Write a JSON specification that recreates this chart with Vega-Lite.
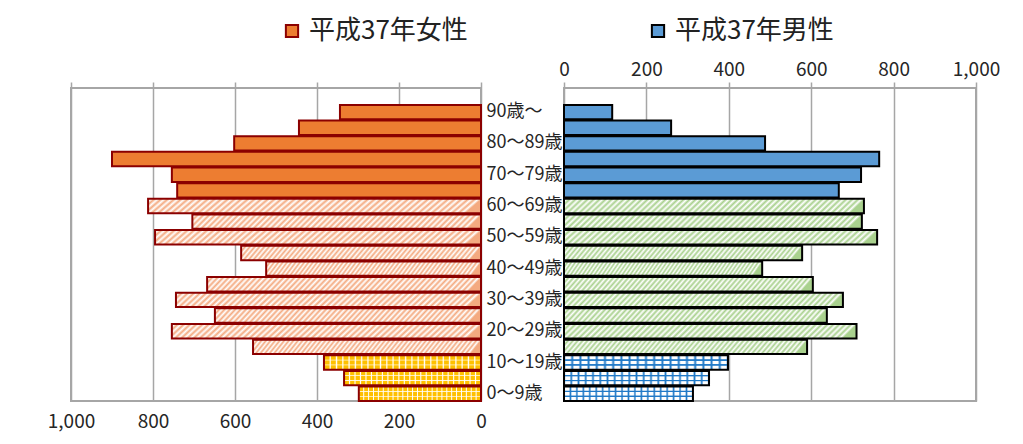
{
  "$schema": "https://vega.github.io/schema/vega-lite/v6.json",
  "padding": {"left": 46, "top": 18, "right": 0, "bottom": 0},
  "autosize": {"type": "pad"},
  "bounds": "flush",
  "spacing": 83,
  "datasets": {
    "pop": [
      {"age": "90歳～", "series": "平成37年女性", "group": "老年人口", "pop": 344},
      {"age": "85～89歳", "series": "平成37年女性", "group": "老年人口", "pop": 444},
      {"age": "80～84歳", "series": "平成37年女性", "group": "老年人口", "pop": 602},
      {"age": "75～79歳", "series": "平成37年女性", "group": "老年人口", "pop": 900},
      {"age": "70～74歳", "series": "平成37年女性", "group": "老年人口", "pop": 754},
      {"age": "65～69歳", "series": "平成37年女性", "group": "老年人口", "pop": 741},
      {"age": "60～64歳", "series": "平成37年女性", "group": "生産年齢人口", "pop": 812},
      {"age": "55～59歳", "series": "平成37年女性", "group": "生産年齢人口", "pop": 704},
      {"age": "50～54歳", "series": "平成37年女性", "group": "生産年齢人口", "pop": 795},
      {"age": "45～49歳", "series": "平成37年女性", "group": "生産年齢人口", "pop": 585},
      {"age": "40～44歳", "series": "平成37年女性", "group": "生産年齢人口", "pop": 524},
      {"age": "35～39歳", "series": "平成37年女性", "group": "生産年齢人口", "pop": 668},
      {"age": "30～34歳", "series": "平成37年女性", "group": "生産年齢人口", "pop": 744},
      {"age": "25～29歳", "series": "平成37年女性", "group": "生産年齢人口", "pop": 649},
      {"age": "20～24歳", "series": "平成37年女性", "group": "生産年齢人口", "pop": 754},
      {"age": "15～19歳", "series": "平成37年女性", "group": "生産年齢人口", "pop": 556},
      {"age": "10～14歳", "series": "平成37年女性", "group": "年少人口", "pop": 383},
      {"age": "5～9歳", "series": "平成37年女性", "group": "年少人口", "pop": 334},
      {"age": "0～4歳", "series": "平成37年女性", "group": "年少人口", "pop": 298},
      {"age": "90歳～", "series": "平成37年男性", "group": "老年人口", "pop": 117},
      {"age": "85～89歳", "series": "平成37年男性", "group": "老年人口", "pop": 260},
      {"age": "80～84歳", "series": "平成37年男性", "group": "老年人口", "pop": 488},
      {"age": "75～79歳", "series": "平成37年男性", "group": "老年人口", "pop": 765},
      {"age": "70～74歳", "series": "平成37年男性", "group": "老年人口", "pop": 721},
      {"age": "65～69歳", "series": "平成37年男性", "group": "老年人口", "pop": 667},
      {"age": "60～64歳", "series": "平成37年男性", "group": "生産年齢人口", "pop": 728},
      {"age": "55～59歳", "series": "平成37年男性", "group": "生産年齢人口", "pop": 723},
      {"age": "50～54歳", "series": "平成37年男性", "group": "生産年齢人口", "pop": 760},
      {"age": "45～49歳", "series": "平成37年男性", "group": "生産年齢人口", "pop": 578},
      {"age": "40～44歳", "series": "平成37年男性", "group": "生産年齢人口", "pop": 481},
      {"age": "35～39歳", "series": "平成37年男性", "group": "生産年齢人口", "pop": 604},
      {"age": "30～34歳", "series": "平成37年男性", "group": "生産年齢人口", "pop": 677},
      {"age": "25～29歳", "series": "平成37年男性", "group": "生産年齢人口", "pop": 638},
      {"age": "20～24歳", "series": "平成37年男性", "group": "生産年齢人口", "pop": 710},
      {"age": "15～19歳", "series": "平成37年男性", "group": "生産年齢人口", "pop": 590},
      {"age": "10～14歳", "series": "平成37年男性", "group": "年少人口", "pop": 398},
      {"age": "5～9歳", "series": "平成37年男性", "group": "年少人口", "pop": 352},
      {"age": "0～4歳", "series": "平成37年男性", "group": "年少人口", "pop": 313}
    ]
  },
  "data": {"name": "pop"},
  "hconcat": [
    {
      "width": 410,
      "height": 313,
      "encoding": {
        "y": {
          "field": "age", "type": "nominal", "title": null,
          "sort": ["90歳～","85～89歳","80～84歳","75～79歳","70～74歳","65～69歳","60～64歳","55～59歳","50～54歳","45～49歳","40～44歳","35～39歳","30～34歳","25～29歳","20～24歳","15～19歳","10～14歳","5～9歳","0～4歳"],
          "scale": {"paddingInner": 0.08, "paddingOuter": 0.54, "align": 1},
          "axis": {
            "orient": "right", "labelAlign": "left", "labelPadding": 5, "ticks": false, "domain": false, "grid": false,
            "labelFontSize": 18, "labelOverlap": false, "labelBound": false, "title": null,
            "labelExpr": "['90歳～','80～89歳','70～79歳','60～69歳','50～59歳','40～49歳','30～39歳','20～29歳','10～19歳','0～9歳'][indexof(['90歳～','80～84歳','70～74歳','60～64歳','50～54歳','40～44歳','30～34歳','20～24歳','10～14歳','0～4歳'], datum.value)] || ''"
          }
        }
      },
      "layer": [
        {
          "transform": [{"filter": {"and": [{"field": "series", "equal": "平成37年女性"}, {"field": "group", "equal": "老年人口"}]}}],
          "mark": {"type": "bar", "strokeWidth": 2},
          "encoding": {
            "x": {
              "field": "pop", "type": "quantitative", "title": null,
              "scale": {"domain": [0, 1000], "reverse": true, "nice": false},
              "axis": {"orient": "bottom", "values": [0, 200, 400, 600, 800, 1000], "format": ",.0f", "labelFlush": false, "grid": true, "ticks": false, "labelPadding": 11, "labelFontSize": 19, "title": null}
            },
            "fill": {
              "field": "series", "type": "nominal",
              "scale": {"domain": ["平成37年女性", "平成37年男性"], "range": ["#ED7D31", "#5B9BD5"]},
              "legend": {"title": null, "orient": "none", "legendX": 208, "legendY": -70, "direction": "horizontal", "symbolType": "square", "symbolSize": 150, "symbolStrokeWidth": 2, "labelFontSize": 26, "labelColor": "#222222", "labelOffset": 4, "columnPadding": 177, "labelLimit": 400}
            },
            "stroke": {
              "field": "series", "type": "nominal",
              "scale": {"domain": ["平成37年女性", "平成37年男性"], "range": ["#8B0000", "#000000"]},
              "legend": {"title": null, "orient": "none", "legendX": 208, "legendY": -70, "direction": "horizontal", "symbolType": "square", "symbolSize": 150, "symbolStrokeWidth": 2, "labelFontSize": 26, "labelColor": "#222222", "labelOffset": 4, "columnPadding": 177, "labelLimit": 400}
            }
          }
        },
        {
          "transform": [{"filter": {"and": [{"field": "series", "equal": "平成37年女性"}, {"field": "group", "equal": "生産年齢人口"}]}}],
          "mark": {
            "type": "bar", "stroke": "#8B0000", "strokeWidth": 2,
            "fill": {"gradient": "linear", "x1": 0, "y1": 0, "x2": 1, "y2": 0.05, "stops": [
              {"offset":0,"color":"#F4AA80"},{"offset":0.01,"color":"#fff"},{"offset":0.02,"color":"#F4AA80"},{"offset":0.03,"color":"#fff"},{"offset":0.04,"color":"#F4AA80"},{"offset":0.05,"color":"#fff"},{"offset":0.06,"color":"#F4AA80"},{"offset":0.07,"color":"#fff"},{"offset":0.08,"color":"#F4AA80"},{"offset":0.09,"color":"#fff"},
              {"offset":0.1,"color":"#F4AA80"},{"offset":0.11,"color":"#fff"},{"offset":0.12,"color":"#F4AA80"},{"offset":0.13,"color":"#fff"},{"offset":0.14,"color":"#F4AA80"},{"offset":0.15,"color":"#fff"},{"offset":0.16,"color":"#F4AA80"},{"offset":0.17,"color":"#fff"},{"offset":0.18,"color":"#F4AA80"},{"offset":0.19,"color":"#fff"},
              {"offset":0.2,"color":"#F4AA80"},{"offset":0.21,"color":"#fff"},{"offset":0.22,"color":"#F4AA80"},{"offset":0.23,"color":"#fff"},{"offset":0.24,"color":"#F4AA80"},{"offset":0.25,"color":"#fff"},{"offset":0.26,"color":"#F4AA80"},{"offset":0.27,"color":"#fff"},{"offset":0.28,"color":"#F4AA80"},{"offset":0.29,"color":"#fff"},
              {"offset":0.3,"color":"#F4AA80"},{"offset":0.31,"color":"#fff"},{"offset":0.32,"color":"#F4AA80"},{"offset":0.33,"color":"#fff"},{"offset":0.34,"color":"#F4AA80"},{"offset":0.35,"color":"#fff"},{"offset":0.36,"color":"#F4AA80"},{"offset":0.37,"color":"#fff"},{"offset":0.38,"color":"#F4AA80"},{"offset":0.39,"color":"#fff"},
              {"offset":0.4,"color":"#F4AA80"},{"offset":0.41,"color":"#fff"},{"offset":0.42,"color":"#F4AA80"},{"offset":0.43,"color":"#fff"},{"offset":0.44,"color":"#F4AA80"},{"offset":0.45,"color":"#fff"},{"offset":0.46,"color":"#F4AA80"},{"offset":0.47,"color":"#fff"},{"offset":0.48,"color":"#F4AA80"},{"offset":0.49,"color":"#fff"},
              {"offset":0.5,"color":"#F4AA80"},{"offset":0.51,"color":"#fff"},{"offset":0.52,"color":"#F4AA80"},{"offset":0.53,"color":"#fff"},{"offset":0.54,"color":"#F4AA80"},{"offset":0.55,"color":"#fff"},{"offset":0.56,"color":"#F4AA80"},{"offset":0.57,"color":"#fff"},{"offset":0.58,"color":"#F4AA80"},{"offset":0.59,"color":"#fff"},
              {"offset":0.6,"color":"#F4AA80"},{"offset":0.61,"color":"#fff"},{"offset":0.62,"color":"#F4AA80"},{"offset":0.63,"color":"#fff"},{"offset":0.64,"color":"#F4AA80"},{"offset":0.65,"color":"#fff"},{"offset":0.66,"color":"#F4AA80"},{"offset":0.67,"color":"#fff"},{"offset":0.68,"color":"#F4AA80"},{"offset":0.69,"color":"#fff"},
              {"offset":0.7,"color":"#F4AA80"},{"offset":0.71,"color":"#fff"},{"offset":0.72,"color":"#F4AA80"},{"offset":0.73,"color":"#fff"},{"offset":0.74,"color":"#F4AA80"},{"offset":0.75,"color":"#fff"},{"offset":0.76,"color":"#F4AA80"},{"offset":0.77,"color":"#fff"},{"offset":0.78,"color":"#F4AA80"},{"offset":0.79,"color":"#fff"},
              {"offset":0.8,"color":"#F4AA80"},{"offset":0.81,"color":"#fff"},{"offset":0.82,"color":"#F4AA80"},{"offset":0.83,"color":"#fff"},{"offset":0.84,"color":"#F4AA80"},{"offset":0.85,"color":"#fff"},{"offset":0.86,"color":"#F4AA80"},{"offset":0.87,"color":"#fff"},{"offset":0.88,"color":"#F4AA80"},{"offset":0.89,"color":"#fff"},
              {"offset":0.9,"color":"#F4AA80"},{"offset":0.91,"color":"#fff"},{"offset":0.92,"color":"#F4AA80"},{"offset":0.93,"color":"#fff"},{"offset":0.94,"color":"#F4AA80"},{"offset":0.95,"color":"#fff"},{"offset":0.96,"color":"#F4AA80"},{"offset":0.97,"color":"#fff"},{"offset":0.98,"color":"#F4AA80"},{"offset":0.99,"color":"#fff"},
              {"offset":1,"color":"#F4AA80"}
            ]}
          },
          "encoding": {
            "x": {
              "field": "pop", "type": "quantitative", "title": null,
              "scale": {"domain": [0, 1000], "reverse": true, "nice": false},
              "axis": {"orient": "top", "values": [0, 200, 400, 600, 800, 1000], "labels": false, "ticks": true, "tickSize": 6, "grid": false, "title": null}
            }
          }
        },
        {
          "transform": [{"filter": {"and": [{"field": "series", "equal": "平成37年女性"}, {"field": "group", "equal": "年少人口"}]}}],
          "mark": {
            "type": "bar",
            "fill": {"gradient": "linear", "x1": 0, "y1": 0, "x2": 0, "y2": 1, "stops": [
              {"offset":0,"color":"#FFC000"},{"offset":0.28,"color":"#FFC000"},{"offset":0.33,"color":"#fff"},{"offset":0.38,"color":"#FFC000"},
              {"offset":0.62,"color":"#FFC000"},{"offset":0.67,"color":"#fff"},{"offset":0.72,"color":"#FFC000"},{"offset":1,"color":"#FFC000"}
            ]}
          },
          "encoding": {
            "x": {"field": "pop", "type": "quantitative", "title": null, "scale": {"domain": [0, 1000], "reverse": true, "nice": false}, "axis": null}
          }
        },
        {
          "transform": [{"filter": {"and": [{"field": "series", "equal": "平成37年女性"}, {"field": "group", "equal": "年少人口"}]}}],
          "mark": {
            "type": "bar", "stroke": "#8B0000", "strokeWidth": 2,
            "fill": {"gradient": "linear", "x1": 0, "y1": 0, "x2": 1, "y2": 0, "stops": [
              {"offset":0,"color":"#fff"},{"offset":0.008,"color":"rgba(255,255,255,0)"},{"offset":0.032,"color":"rgba(255,255,255,0)"},
              {"offset":0.04,"color":"#fff"},{"offset":0.048,"color":"rgba(255,255,255,0)"},{"offset":0.072,"color":"rgba(255,255,255,0)"},
              {"offset":0.08,"color":"#fff"},{"offset":0.088,"color":"rgba(255,255,255,0)"},{"offset":0.112,"color":"rgba(255,255,255,0)"},
              {"offset":0.12,"color":"#fff"},{"offset":0.128,"color":"rgba(255,255,255,0)"},{"offset":0.152,"color":"rgba(255,255,255,0)"},
              {"offset":0.16,"color":"#fff"},{"offset":0.168,"color":"rgba(255,255,255,0)"},{"offset":0.192,"color":"rgba(255,255,255,0)"},
              {"offset":0.2,"color":"#fff"},{"offset":0.208,"color":"rgba(255,255,255,0)"},{"offset":0.232,"color":"rgba(255,255,255,0)"},
              {"offset":0.24,"color":"#fff"},{"offset":0.248,"color":"rgba(255,255,255,0)"},{"offset":0.272,"color":"rgba(255,255,255,0)"},
              {"offset":0.28,"color":"#fff"},{"offset":0.288,"color":"rgba(255,255,255,0)"},{"offset":0.312,"color":"rgba(255,255,255,0)"},
              {"offset":0.32,"color":"#fff"},{"offset":0.328,"color":"rgba(255,255,255,0)"},{"offset":0.352,"color":"rgba(255,255,255,0)"},
              {"offset":0.36,"color":"#fff"},{"offset":0.368,"color":"rgba(255,255,255,0)"},{"offset":0.392,"color":"rgba(255,255,255,0)"},
              {"offset":0.4,"color":"#fff"},{"offset":0.408,"color":"rgba(255,255,255,0)"},{"offset":0.432,"color":"rgba(255,255,255,0)"},
              {"offset":0.44,"color":"#fff"},{"offset":0.448,"color":"rgba(255,255,255,0)"},{"offset":0.472,"color":"rgba(255,255,255,0)"},
              {"offset":0.48,"color":"#fff"},{"offset":0.488,"color":"rgba(255,255,255,0)"},{"offset":0.512,"color":"rgba(255,255,255,0)"},
              {"offset":0.52,"color":"#fff"},{"offset":0.528,"color":"rgba(255,255,255,0)"},{"offset":0.552,"color":"rgba(255,255,255,0)"},
              {"offset":0.56,"color":"#fff"},{"offset":0.568,"color":"rgba(255,255,255,0)"},{"offset":0.592,"color":"rgba(255,255,255,0)"},
              {"offset":0.6,"color":"#fff"},{"offset":0.608,"color":"rgba(255,255,255,0)"},{"offset":0.632,"color":"rgba(255,255,255,0)"},
              {"offset":0.64,"color":"#fff"},{"offset":0.648,"color":"rgba(255,255,255,0)"},{"offset":0.672,"color":"rgba(255,255,255,0)"},
              {"offset":0.68,"color":"#fff"},{"offset":0.688,"color":"rgba(255,255,255,0)"},{"offset":0.712,"color":"rgba(255,255,255,0)"},
              {"offset":0.72,"color":"#fff"},{"offset":0.728,"color":"rgba(255,255,255,0)"},{"offset":0.752,"color":"rgba(255,255,255,0)"},
              {"offset":0.76,"color":"#fff"},{"offset":0.768,"color":"rgba(255,255,255,0)"},{"offset":0.792,"color":"rgba(255,255,255,0)"},
              {"offset":0.8,"color":"#fff"},{"offset":0.808,"color":"rgba(255,255,255,0)"},{"offset":0.832,"color":"rgba(255,255,255,0)"},
              {"offset":0.84,"color":"#fff"},{"offset":0.848,"color":"rgba(255,255,255,0)"},{"offset":0.872,"color":"rgba(255,255,255,0)"},
              {"offset":0.88,"color":"#fff"},{"offset":0.888,"color":"rgba(255,255,255,0)"},{"offset":0.912,"color":"rgba(255,255,255,0)"},
              {"offset":0.92,"color":"#fff"},{"offset":0.928,"color":"rgba(255,255,255,0)"},{"offset":0.952,"color":"rgba(255,255,255,0)"},
              {"offset":0.96,"color":"#fff"},{"offset":0.968,"color":"rgba(255,255,255,0)"},{"offset":0.992,"color":"rgba(255,255,255,0)"},
              {"offset":1,"color":"#fff"}
            ]}
          },
          "encoding": {
            "x": {"field": "pop", "type": "quantitative", "title": null, "scale": {"domain": [0, 1000], "reverse": true, "nice": false}, "axis": null}
          }
        }
      ],
      "resolve": {"axis": {"x": "independent"}}
    },
    {
      "width": 412,
      "height": 313,
      "encoding": {
        "y": {
          "field": "age", "type": "nominal", "title": null,
          "sort": ["90歳～","85～89歳","80～84歳","75～79歳","70～74歳","65～69歳","60～64歳","55～59歳","50～54歳","45～49歳","40～44歳","35～39歳","30～34歳","25～29歳","20～24歳","15～19歳","10～14歳","5～9歳","0～4歳"],
          "scale": {"paddingInner": 0.08, "paddingOuter": 0.54, "align": 1},
          "axis": null
        },
        "x": {
          "field": "pop", "type": "quantitative", "title": null,
          "scale": {"domain": [0, 1000], "nice": false},
          "axis": {"orient": "top", "values": [0, 200, 400, 600, 800, 1000], "format": ",.0f", "labelFlush": false, "grid": true, "ticks": true, "tickSize": 6, "labelPadding": 3, "labelFontSize": 19, "title": null}
        }
      },
      "layer": [
        {
          "transform": [{"filter": {"and": [{"field": "series", "equal": "平成37年男性"}, {"field": "group", "equal": "老年人口"}]}}],
          "mark": {"type": "bar", "strokeWidth": 2},
          "encoding": {
            "fill": {
              "field": "series", "type": "nominal",
              "scale": {"domain": ["平成37年女性", "平成37年男性"], "range": ["#ED7D31", "#5B9BD5"]},
              "legend": {"title": null, "orient": "none", "legendX": 208, "legendY": -70, "direction": "horizontal", "symbolType": "square", "symbolSize": 150, "symbolStrokeWidth": 2, "labelFontSize": 26, "labelColor": "#222222", "labelOffset": 4, "columnPadding": 177, "labelLimit": 400}
            },
            "stroke": {
              "field": "series", "type": "nominal",
              "scale": {"domain": ["平成37年女性", "平成37年男性"], "range": ["#8B0000", "#000000"]},
              "legend": {"title": null, "orient": "none", "legendX": 208, "legendY": -70, "direction": "horizontal", "symbolType": "square", "symbolSize": 150, "symbolStrokeWidth": 2, "labelFontSize": 26, "labelColor": "#222222", "labelOffset": 4, "columnPadding": 177, "labelLimit": 400}
            }
          }
        },
        {
          "transform": [{"filter": {"and": [{"field": "series", "equal": "平成37年男性"}, {"field": "group", "equal": "生産年齢人口"}]}}],
          "mark": {
            "type": "bar", "stroke": "#000000", "strokeWidth": 2,
            "fill": {"gradient": "linear", "x1": 0, "y1": 0, "x2": 1, "y2": 0.05, "stops": [
              {"offset":0,"color":"#A9D18E"},{"offset":0.01,"color":"#fff"},{"offset":0.02,"color":"#A9D18E"},{"offset":0.03,"color":"#fff"},{"offset":0.04,"color":"#A9D18E"},{"offset":0.05,"color":"#fff"},{"offset":0.06,"color":"#A9D18E"},{"offset":0.07,"color":"#fff"},{"offset":0.08,"color":"#A9D18E"},{"offset":0.09,"color":"#fff"},
              {"offset":0.1,"color":"#A9D18E"},{"offset":0.11,"color":"#fff"},{"offset":0.12,"color":"#A9D18E"},{"offset":0.13,"color":"#fff"},{"offset":0.14,"color":"#A9D18E"},{"offset":0.15,"color":"#fff"},{"offset":0.16,"color":"#A9D18E"},{"offset":0.17,"color":"#fff"},{"offset":0.18,"color":"#A9D18E"},{"offset":0.19,"color":"#fff"},
              {"offset":0.2,"color":"#A9D18E"},{"offset":0.21,"color":"#fff"},{"offset":0.22,"color":"#A9D18E"},{"offset":0.23,"color":"#fff"},{"offset":0.24,"color":"#A9D18E"},{"offset":0.25,"color":"#fff"},{"offset":0.26,"color":"#A9D18E"},{"offset":0.27,"color":"#fff"},{"offset":0.28,"color":"#A9D18E"},{"offset":0.29,"color":"#fff"},
              {"offset":0.3,"color":"#A9D18E"},{"offset":0.31,"color":"#fff"},{"offset":0.32,"color":"#A9D18E"},{"offset":0.33,"color":"#fff"},{"offset":0.34,"color":"#A9D18E"},{"offset":0.35,"color":"#fff"},{"offset":0.36,"color":"#A9D18E"},{"offset":0.37,"color":"#fff"},{"offset":0.38,"color":"#A9D18E"},{"offset":0.39,"color":"#fff"},
              {"offset":0.4,"color":"#A9D18E"},{"offset":0.41,"color":"#fff"},{"offset":0.42,"color":"#A9D18E"},{"offset":0.43,"color":"#fff"},{"offset":0.44,"color":"#A9D18E"},{"offset":0.45,"color":"#fff"},{"offset":0.46,"color":"#A9D18E"},{"offset":0.47,"color":"#fff"},{"offset":0.48,"color":"#A9D18E"},{"offset":0.49,"color":"#fff"},
              {"offset":0.5,"color":"#A9D18E"},{"offset":0.51,"color":"#fff"},{"offset":0.52,"color":"#A9D18E"},{"offset":0.53,"color":"#fff"},{"offset":0.54,"color":"#A9D18E"},{"offset":0.55,"color":"#fff"},{"offset":0.56,"color":"#A9D18E"},{"offset":0.57,"color":"#fff"},{"offset":0.58,"color":"#A9D18E"},{"offset":0.59,"color":"#fff"},
              {"offset":0.6,"color":"#A9D18E"},{"offset":0.61,"color":"#fff"},{"offset":0.62,"color":"#A9D18E"},{"offset":0.63,"color":"#fff"},{"offset":0.64,"color":"#A9D18E"},{"offset":0.65,"color":"#fff"},{"offset":0.66,"color":"#A9D18E"},{"offset":0.67,"color":"#fff"},{"offset":0.68,"color":"#A9D18E"},{"offset":0.69,"color":"#fff"},
              {"offset":0.7,"color":"#A9D18E"},{"offset":0.71,"color":"#fff"},{"offset":0.72,"color":"#A9D18E"},{"offset":0.73,"color":"#fff"},{"offset":0.74,"color":"#A9D18E"},{"offset":0.75,"color":"#fff"},{"offset":0.76,"color":"#A9D18E"},{"offset":0.77,"color":"#fff"},{"offset":0.78,"color":"#A9D18E"},{"offset":0.79,"color":"#fff"},
              {"offset":0.8,"color":"#A9D18E"},{"offset":0.81,"color":"#fff"},{"offset":0.82,"color":"#A9D18E"},{"offset":0.83,"color":"#fff"},{"offset":0.84,"color":"#A9D18E"},{"offset":0.85,"color":"#fff"},{"offset":0.86,"color":"#A9D18E"},{"offset":0.87,"color":"#fff"},{"offset":0.88,"color":"#A9D18E"},{"offset":0.89,"color":"#fff"},
              {"offset":0.9,"color":"#A9D18E"},{"offset":0.91,"color":"#fff"},{"offset":0.92,"color":"#A9D18E"},{"offset":0.93,"color":"#fff"},{"offset":0.94,"color":"#A9D18E"},{"offset":0.95,"color":"#fff"},{"offset":0.96,"color":"#A9D18E"},{"offset":0.97,"color":"#fff"},{"offset":0.98,"color":"#A9D18E"},{"offset":0.99,"color":"#fff"},
              {"offset":1,"color":"#A9D18E"}
            ]}
          }
        },
        {
          "transform": [{"filter": {"and": [{"field": "series", "equal": "平成37年男性"}, {"field": "group", "equal": "年少人口"}]}}],
          "mark": {
            "type": "bar",
            "fill": {"gradient": "linear", "x1": 0, "y1": 0, "x2": 0, "y2": 1, "stops": [
              {"offset":0,"color":"#fff"},{"offset":0.26,"color":"#fff"},{"offset":0.3,"color":"#2079C7"},{"offset":0.36,"color":"#2079C7"},{"offset":0.4,"color":"#fff"},
              {"offset":0.6,"color":"#fff"},{"offset":0.64,"color":"#2079C7"},{"offset":0.7,"color":"#2079C7"},{"offset":0.74,"color":"#fff"},{"offset":1,"color":"#fff"}
            ]}
          }
        },
        {
          "transform": [{"filter": {"and": [{"field": "series", "equal": "平成37年男性"}, {"field": "group", "equal": "年少人口"}]}}],
          "mark": {
            "type": "bar", "stroke": "#000000", "strokeWidth": 2,
            "fill": {"gradient": "linear", "x1": 0, "y1": 0, "x2": 1, "y2": 0, "stops": [
              {"offset":0,"color":"#2079C7"},{"offset":0.012,"color":"rgba(32,121,199,0)"},{"offset":0.038,"color":"rgba(32,121,199,0)"},
              {"offset":0.05,"color":"#2079C7"},{"offset":0.062,"color":"rgba(32,121,199,0)"},{"offset":0.088,"color":"rgba(32,121,199,0)"},
              {"offset":0.1,"color":"#2079C7"},{"offset":0.112,"color":"rgba(32,121,199,0)"},{"offset":0.138,"color":"rgba(32,121,199,0)"},
              {"offset":0.15,"color":"#2079C7"},{"offset":0.162,"color":"rgba(32,121,199,0)"},{"offset":0.188,"color":"rgba(32,121,199,0)"},
              {"offset":0.2,"color":"#2079C7"},{"offset":0.212,"color":"rgba(32,121,199,0)"},{"offset":0.238,"color":"rgba(32,121,199,0)"},
              {"offset":0.25,"color":"#2079C7"},{"offset":0.262,"color":"rgba(32,121,199,0)"},{"offset":0.288,"color":"rgba(32,121,199,0)"},
              {"offset":0.3,"color":"#2079C7"},{"offset":0.312,"color":"rgba(32,121,199,0)"},{"offset":0.338,"color":"rgba(32,121,199,0)"},
              {"offset":0.35,"color":"#2079C7"},{"offset":0.362,"color":"rgba(32,121,199,0)"},{"offset":0.388,"color":"rgba(32,121,199,0)"},
              {"offset":0.4,"color":"#2079C7"},{"offset":0.412,"color":"rgba(32,121,199,0)"},{"offset":0.438,"color":"rgba(32,121,199,0)"},
              {"offset":0.45,"color":"#2079C7"},{"offset":0.462,"color":"rgba(32,121,199,0)"},{"offset":0.488,"color":"rgba(32,121,199,0)"},
              {"offset":0.5,"color":"#2079C7"},{"offset":0.512,"color":"rgba(32,121,199,0)"},{"offset":0.538,"color":"rgba(32,121,199,0)"},
              {"offset":0.55,"color":"#2079C7"},{"offset":0.562,"color":"rgba(32,121,199,0)"},{"offset":0.588,"color":"rgba(32,121,199,0)"},
              {"offset":0.6,"color":"#2079C7"},{"offset":0.612,"color":"rgba(32,121,199,0)"},{"offset":0.638,"color":"rgba(32,121,199,0)"},
              {"offset":0.65,"color":"#2079C7"},{"offset":0.662,"color":"rgba(32,121,199,0)"},{"offset":0.688,"color":"rgba(32,121,199,0)"},
              {"offset":0.7,"color":"#2079C7"},{"offset":0.712,"color":"rgba(32,121,199,0)"},{"offset":0.738,"color":"rgba(32,121,199,0)"},
              {"offset":0.75,"color":"#2079C7"},{"offset":0.762,"color":"rgba(32,121,199,0)"},{"offset":0.788,"color":"rgba(32,121,199,0)"},
              {"offset":0.8,"color":"#2079C7"},{"offset":0.812,"color":"rgba(32,121,199,0)"},{"offset":0.838,"color":"rgba(32,121,199,0)"},
              {"offset":0.85,"color":"#2079C7"},{"offset":0.862,"color":"rgba(32,121,199,0)"},{"offset":0.888,"color":"rgba(32,121,199,0)"},
              {"offset":0.9,"color":"#2079C7"},{"offset":0.912,"color":"rgba(32,121,199,0)"},{"offset":0.938,"color":"rgba(32,121,199,0)"},
              {"offset":0.95,"color":"#2079C7"},{"offset":0.962,"color":"rgba(32,121,199,0)"},{"offset":0.988,"color":"rgba(32,121,199,0)"},
              {"offset":1,"color":"#2079C7"}
            ]}
          }
        }
      ]
    }
  ],
  "config": {
    "font": "Noto Sans CJK JP",
    "view": {"stroke": "#A6A6A6", "strokeWidth": 2},
    "axis": {
      "labelFont": "Noto Sans CJK JP",
      "labelColor": "#262626",
      "gridColor": "#A6A6A6",
      "gridWidth": 1.5,
      "tickColor": "#A6A6A6",
      "tickWidth": 1.5,
      "domain": false
    },
    "legend": {"labelFont": "Noto Sans CJK JP"}
  }
}
